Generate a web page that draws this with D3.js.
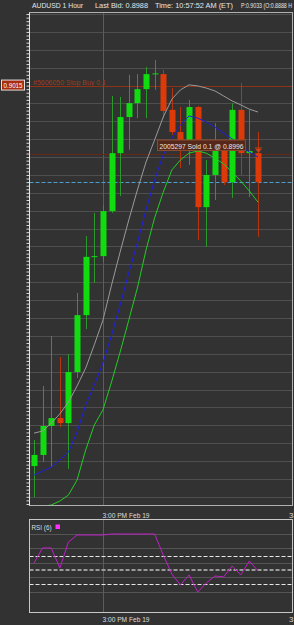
<!DOCTYPE html>
<html><head><meta charset="utf-8">
<script src="https://cdn.jsdelivr.net/npm/d3@7/dist/d3.min.js"></script>
<style>html,body{margin:0;padding:0;background:#323232;overflow:hidden}svg{display:block}</style>
</head><body><svg id="c" width="294" height="625"></svg>
<script>
// ---- data ----
const hours = ["07:00","08:00","09:00","10:00","11:00","12:00","13:00","14:00","15:00","16:00","17:00","18:00","19:00","20:00","21:00","22:00","23:00","00:00","01:00","02:00","03:00","04:00","05:00","06:00","07:00","08:00","09:00"];
const open  = [0.89086,0.89117,0.89198,0.89220,0.89206,0.89349,0.89508,0.89671,0.89673,0.89799,0.89961,0.90062,0.90101,0.90140,0.90182,0.90182,0.90082,0.90020,0.89975,0.90090,0.89810,0.89900,0.89970,0.89880,0.90082,0.89961,0.89961];
const high  = [0.89159,0.89310,0.89450,0.89391,0.89399,0.89570,0.89729,0.89794,0.89816,0.90121,0.90118,0.90180,0.90182,0.90202,0.90221,0.90194,0.90143,0.90090,0.90110,0.90093,0.89942,0.90045,0.89975,0.90101,0.90157,0.90082,0.90020];
const low   = [0.88999,0.89097,0.89083,0.89195,0.89078,0.89332,0.89469,0.89598,0.89657,0.89794,0.89841,0.89970,0.90059,0.90059,0.90138,0.90059,0.90012,0.89919,0.89928,0.89718,0.89699,0.89830,0.89872,0.89836,0.89900,0.89838,0.89727];
const close = [0.89117,0.89198,0.89220,0.89206,0.89349,0.89508,0.89671,0.89673,0.89799,0.89961,0.90062,0.90101,0.90140,0.90182,0.90184,0.90079,0.90020,0.89975,0.90090,0.89810,0.89900,0.89970,0.89880,0.90082,0.89961,0.89967,0.89880];
const maGray  = [0.89178,0.89184,0.89206,0.89232,0.89265,0.89310,0.89360,0.89425,0.89494,0.89592,0.89685,0.89774,0.89858,0.89936,0.89998,0.90062,0.90112,0.90138,0.90152,0.90149,0.90143,0.90135,0.90121,0.90107,0.90096,0.90084,0.90076];
const maBlue  = [0.89061,0.89072,0.89083,0.89103,0.89125,0.89181,0.89257,0.89313,0.89374,0.89452,0.89536,0.89626,0.89710,0.89802,0.89886,0.89956,0.90003,0.90040,0.90065,0.90059,0.90048,0.90034,0.90017,0.90001,0.89981,0.89964,0.89950];
const maGreen = [0.88971,0.88974,0.88977,0.88988,0.89005,0.89047,0.89131,0.89201,0.89243,0.89321,0.89405,0.89494,0.89584,0.89690,0.89780,0.89852,0.89914,0.89942,0.89961,0.89967,0.89961,0.89947,0.89931,0.89908,0.89883,0.89855,0.89824];
const rsi = [59.7,80.6,80.6,52.8,88.9,98.6,98.6,98.6,98.6,100,100,100,100,100,100,70.8,44.4,29.2,43.1,19.4,31.9,41.7,40.3,55.6,43.1,62.5,48.6];
const timeTickIdx = [8, 30];
const timeTickLabels = ["3:00 PM Feb 19", "3"];
const rsiGridLevels = [100, 80, 60, 40, 20];
const rsiBands = [70, 30];
const rsiMid = 50;
const stopBuyPrice = 0.9015, soldPrice = 0.8996, lastBid = 0.8988;
const headerTexts = ["AUDUSD  1 Hour", "Last Bid: 0.8988", "Time: 10:57:52 AM (ET)", "P:0.9033 (O:0.8888 H"];

// ---- layout ----
const svg = d3.select("#c");
const L = 29.5, R = 292.5, T = 12.5, B = 505.5;
const RT = 519.5, RB = 612.5;
const FONT = "'Liberation Sans', Arial, sans-serif";
const x = d3.scaleLinear().domain([0, 26]).range([34, 258]);
const y = d3.scaleLinear().domain([0.89, 0.90]).range([496.8, 139.2]);
const yr = d3.scaleLinear().domain([0, 100]).range([606, 534]);

svg.append("rect").attr("width",294).attr("height",625).attr("fill","#323232");

const defs = svg.append("defs");
defs.append("clipPath").attr("id","mainClip").append("rect").attr("x",L).attr("y",T).attr("width",R-L).attr("height",B-T);
defs.append("clipPath").attr("id","rsiClip").append("rect").attr("x",L).attr("y",RT).attr("width",R-L).attr("height",RB-RT);

// header
const hdrX = [32, 95, 155, 241], hdrW = [51, 53, 78, 51];
headerTexts.forEach((t,i)=>{
  svg.append("text").attr("x",hdrX[i]).attr("y",7.5).attr("fill","#e6e6e6")
    .attr("font-family",FONT).attr("font-size",8).attr("textLength",hdrW[i]).attr("lengthAdjust","spacingAndGlyphs").text(t);
});

// ---- main panel ----
const main = svg.append("g").attr("clip-path","url(#mainClip)");
const gridVals = d3.range(0.8895, 0.90401, 0.0005).filter(v => y(v) > T && y(v) < B);
main.selectAll("line.hg").data(gridVals).join("line")
  .attr("x1",L).attr("x2",R).attr("y1",d=>Math.round(y(d))+0.5).attr("y2",d=>Math.round(y(d))+0.5)
  .attr("stroke","#4e4e4e").attr("stroke-width",1);
main.selectAll("line.vg").data(timeTickIdx).join("line")
  .attr("x1",d=>Math.round(x(d))+0.5).attr("x2",d=>Math.round(x(d))+0.5).attr("y1",T).attr("y2",B)
  .attr("stroke","#5c5c5c");

// order lines
main.append("line").attr("x1",L).attr("x2",R).attr("y1",Math.round(y(stopBuyPrice))+0.5).attr("y2",Math.round(y(stopBuyPrice))+0.5)
  .attr("stroke","#8e3416").attr("stroke-width",1);
main.append("line").attr("x1",L).attr("x2",R).attr("y1",Math.round(y(soldPrice))+0.5).attr("y2",Math.round(y(soldPrice))+0.5)
  .attr("stroke","#62281a").attr("stroke-width",1);
main.append("line").attr("x1",L).attr("x2",R).attr("y1",Math.round(y(lastBid))+0.5).attr("y2",Math.round(y(lastBid))+0.5)
  .attr("stroke","#4d9fd0").attr("stroke-width",1.2).attr("stroke-dasharray","4,2");
main.append("text").attr("x",33).attr("y",Math.round(y(stopBuyPrice))-1.5).attr("fill","#a03c18")
  .attr("font-family",FONT).attr("font-size",8).attr("textLength",73).attr("lengthAdjust","spacingAndGlyphs")
  .text("#5606050 Stop Buy 0.1");

// candles
const idx = d3.range(open.length);
const isUp = i => close[i] >= open[i];
const cg = main.append("g");
cg.selectAll("line.wick").data(idx).join("line")
  .attr("x1",i=>Math.round(x(i))+0.5).attr("x2",i=>Math.round(x(i))+0.5)
  .attr("y1",i=>y(high[i])).attr("y2",i=>y(low[i]))
  .attr("stroke",i=>isUp(i)?"#2a9a2a":"#b8340e").attr("stroke-width",1);
cg.selectAll("rect.body").data(idx).join("rect")
  .attr("x",i=>Math.round(x(i))-2.5).attr("width",6)
  .attr("y",i=>Math.min(y(open[i]),y(close[i])))
  .attr("height",i=>Math.max(1,Math.abs(y(open[i])-y(close[i]))))
  .attr("fill",i=>isUp(i)?"#10dc10":"#dc3a08");

// moving averages
const lineGen = arr => d3.line().x((d,i)=>x(i)).y(d=>y(d))(arr);
main.append("path").attr("d",lineGen(maGray)).attr("fill","none").attr("stroke","#9a9a9a").attr("stroke-width",1);
main.append("path").attr("d",lineGen(maBlue)).attr("fill","none").attr("stroke","#2020e0").attr("stroke-width",1);
main.append("path").attr("d",lineGen(maGreen)).attr("fill","none").attr("stroke","#22cc22").attr("stroke-width",1);

// sell marker on last candle
const mx = Math.round(x(26))+0.5, my = Math.round(y(soldPrice))-6;
main.append("line").attr("x1",mx-3.5).attr("x2",mx+3.5).attr("y1",my).attr("y2",my).attr("stroke","#d04010");
main.append("path").attr("d",`M${mx-3},${my+1}L${mx+3},${my+1}L${mx},${my+5}Z`).attr("fill","#d04010");

// sold label
const sy = Math.round(y(soldPrice));
main.append("rect").attr("x",157.5).attr("y",sy-14).attr("width",88).attr("height",10.5)
  .attr("fill","#55281a").attr("stroke","#8a4a30").attr("stroke-width",1);
main.append("text").attr("x",159.5).attr("y",sy-5.5).attr("fill","#f0e6e0")
  .attr("font-family",FONT).attr("font-size",8).attr("textLength",84).attr("lengthAdjust","spacingAndGlyphs")
  .text("2005297 Sold 0.1 @ 0.8996");

// left axis with small ticks
const axisTicks = d3.range(0.8897, 0.90361, 0.0001).filter(v => y(v) > T && y(v) < B);
const ax = svg.append("g").attr("transform",`translate(${L},0)`)
  .call(d3.axisLeft(y).tickValues(axisTicks).tickSize(3).tickSizeOuter(0).tickFormat(""));
ax.select(".domain").remove();
ax.selectAll(".tick line").attr("stroke","#dddddd");

// panel border
svg.append("rect").attr("x",L).attr("y",T).attr("width",R-L).attr("height",B-T)
  .attr("fill","none").attr("stroke","#b0b0b0").attr("stroke-width",1);
svg.append("line").attr("x1",L).attr("x2",L).attr("y1",T).attr("y2",B).attr("stroke","#e6e6e6");

// price box
const pby = y(stopBuyPrice);
svg.append("rect").attr("x",1.5).attr("y",pby-5.5).attr("width",23).attr("height",10)
  .attr("fill","#a82c10").attr("stroke","#e0e0e0").attr("stroke-width",1);
svg.append("text").attr("x",13).attr("y",pby+2.5).attr("text-anchor","middle").attr("fill","#ffffff")
  .attr("font-family",FONT).attr("font-size",8).attr("textLength",19).attr("lengthAdjust","spacingAndGlyphs")
  .text(stopBuyPrice.toFixed(4));

// time labels
[517.5, 622].forEach(ty=>{
  svg.selectAll(null).data(timeTickIdx).join("text")
    .attr("x",(d,i)=> i===0 ? Math.round(x(d))-0.5 : 289).attr("y",ty).attr("fill","#dddddd")
    .attr("font-family",FONT).attr("font-size",8)
    .text((d,i)=>timeTickLabels[i])
    .each(function(d,i){ if(i===0) d3.select(this).attr("textLength",47).attr("lengthAdjust","spacingAndGlyphs"); });
});

// ---- RSI panel ----
const rp = svg.append("g").attr("clip-path","url(#rsiClip)");
rp.selectAll("line.rg").data(rsiGridLevels).join("line")
  .attr("x1",L).attr("x2",R).attr("y1",d=>Math.round(yr(d))+0.5).attr("y2",d=>Math.round(yr(d))+0.5)
  .attr("stroke","#555555");
rp.selectAll("line.vg").data(timeTickIdx).join("line")
  .attr("x1",d=>Math.round(x(d))+0.5).attr("x2",d=>Math.round(x(d))+0.5).attr("y1",RT).attr("y2",RB)
  .attr("stroke","#5c5c5c");
rp.selectAll("line.band").data(rsiBands).join("line")
  .attr("x1",L).attr("x2",R).attr("y1",d=>Math.round(yr(d))+0.5).attr("y2",d=>Math.round(yr(d))+0.5)
  .attr("stroke","#e8e8e8").attr("stroke-dasharray","4,2");
rp.append("line").attr("x1",L).attr("x2",R).attr("y1",Math.round(yr(rsiMid))).attr("y2",Math.round(yr(rsiMid)))
  .attr("stroke","#9a9a9a").attr("stroke-width",2).attr("stroke-dasharray","4,2");
rp.append("path").attr("d",d3.line().x((d,i)=>x(i)).y(d=>yr(d))(rsi))
  .attr("fill","none").attr("stroke","#c020c8").attr("stroke-width",1);
svg.append("rect").attr("x",L).attr("y",RT).attr("width",R-L).attr("height",RB-RT)
  .attr("fill","none").attr("stroke","#c8c8c8").attr("stroke-width",1);
svg.append("text").attr("x",31.5).attr("y",529.5).attr("fill","#dddddd")
  .attr("font-family",FONT).attr("font-size",8).attr("textLength",20).attr("lengthAdjust","spacingAndGlyphs")
  .text("RSI (6)");
svg.append("rect").attr("x",55.5).attr("y",524.5).attr("width",4.5).attr("height",4.5).attr("fill","#ff30ff");
</script></body></html>
